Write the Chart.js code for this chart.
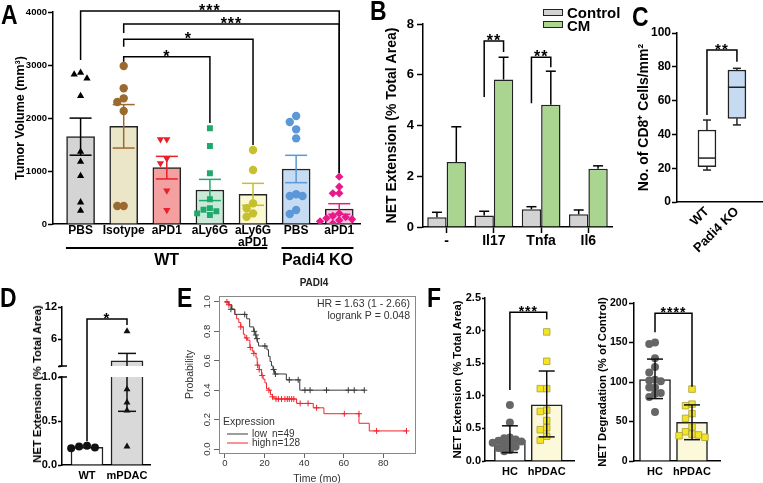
<!DOCTYPE html>
<html lang="en">
<head>
<meta charset="UTF-8">
<title>NET figure</title>
<script src="https://cdn.jsdelivr.net/npm/chart.js"></script>
<style>
  body { margin: 0; background: #fff; }
  #fig { position: relative; width: 763px; height: 483px; overflow: hidden; background: #fff;
         font-family: 'Liberation Sans', Arial, sans-serif; }
  #fig canvas { position: absolute; }
  .letter { position: absolute; font-weight: bold; font-size: 28px; line-height: 28px;
            transform-origin: 0 0; transform: scaleX(0.82); }
  .legbox { position: absolute; width: 18px; height: 5px; border: 1.5px solid #222; }
  .legtxt { position: absolute; font-weight: bold; font-size: 15px; line-height: 15px; }
  .vtitle { position: absolute; font-weight: bold; white-space: nowrap;
            transform: translate(-50%, -50%) rotate(-90deg); }
</style>
</head>
<body>
<div id="fig">
  <canvas id="cA" width="365" height="275" style="left:0;top:0"></canvas>
  <canvas id="cB" width="245" height="275" style="left:370px;top:0"></canvas>
  <canvas id="cC" width="148" height="275" style="left:615px;top:0"></canvas>
  <canvas id="cDlow" width="160" height="188" style="left:0;top:295px"></canvas>
  <canvas id="cDup" width="160" height="188" style="left:0;top:295px"></canvas>
  <canvas id="cE" width="250" height="213" style="left:170px;top:270px"></canvas>
  <canvas id="cF1" width="150" height="193" style="left:430px;top:290px"></canvas>
  <canvas id="cF2" width="183" height="193" style="left:580px;top:290px"></canvas>

  <div class="letter" style="left:1px;top:1px">A</div>
  <div class="letter" style="left:370px;top:-3px">B</div>
  <div class="letter" style="left:632px;top:3px">C</div>
  <div class="letter" style="left:0;top:284px">D</div>
  <div class="letter" style="left:177px;top:284px">E</div>
  <div class="letter" style="left:427px;top:284px">F</div>

  <div class="legbox" style="left:543px;top:9px;background:#d3d3d3"></div>
  <div class="legtxt" style="left:567px;top:5px">Control</div>
  <div class="legbox" style="left:543px;top:21px;background:#a9d591"></div>
  <div class="legtxt" style="left:567px;top:18px">CM</div>

  <div class="vtitle" style="left:37px;top:384px;font-size:11.3px">NET Extension (% Total Area)</div>
</div>

<script>
// ---- panel A: tumour volume ----
const groupsA = ['PBS', 'Isotype', 'aPD1', 'aLy6G', ['aLy6G', 'aPD1'], 'PBS', 'aPD1'];
const meanA = [1648, 1843, 1063, 642, 560, 1038, 283];
const semA = [350, 410, 213, 200, 207, 258, 100];
const pointsA = [
  [2855, 2824, 2748, 2415, 1365, 1176, 906, 409, 252],
  [2981, 2560, 2371, 2302, 2132, 340, 340],
  [1597, 1597, 1233, 1145, 629, 264],
  [1805, 1471, 956, 466, 300, 270, 240, 200, 170],
  [1396, 1019, 390, 296, 201, 138],
  [2038, 1925, 1786, 1616, 560, 528, 528, 264, 189],
  [893, 704, 579, 578, 200, 150, 130, 110, 90, 70, 50, 10]
];
const ticksA = [0, 1000, 2000, 3000, 4000];
// brackets: group indices, top / left leg end / right leg end (mm3)
const bracketsA = [
  { from: 0, to: 6, top: 4019, left: 3094, right: 962, stars: '***' },
  { from: 1, to: 6, top: 3774, left: 3604, right: 962, stars: '***' },
  { from: 1, to: 4, top: 3485, left: 3345, right: 1490, stars: '*' },
  { from: 1, to: 3, top: 3157, left: 3062, right: 1906, stars: '*' }
];
const genotypeA = [{ text: 'WT', from: 0, to: 4 }, { text: 'Padi4 KO', from: 5, to: 6 }];

// ---- panel B: NET extension per cytokine ----
const catB = ['-', 'Il17', 'Tnfa', 'Il6'];
const ctrlB = [0.38, 0.45, 0.70, 0.50];
const ctrlErrB = [0.20, 0.17, 0.10, 0.17];
const cmB = [2.56, 5.81, 4.82, 2.30];
const cmErrB = [1.39, 0.88, 1.32, 0.11];
const ticksB = [0, 2, 4, 6, 8];
const bracketsB = [
  { cat: 1, top: 7.33, left: 5.12, right: 6.9, stars: '**' },
  { cat: 2, top: 6.69, left: 4.88, right: 6.3, stars: '**' }
];

// ---- panel C: CD8 box plot ----
const catC = ['WT', 'Padi4 KO'];
const minC = [18.9, 45.6];
const q1C = [20.9, 49.5];
const medC = [26, 67.9];
const q3C = [42.6, 78.1];
const maxC = [48.5, 79.1];
const ticksC = [0, 20, 40, 60, 80, 100];

// ---- panel D: mouse NET extension (broken axis) ----
const catD = ['WT', 'mPDAC'];
const meanD = [0.2, 1.98];
const semD = [0, 1.37];
const pointsD = [[0.22, 0.21, 0.20, 0.19], [7.5, 0.86, 0.71, 0.62, 0.21]];

// ---- panel E: Kaplan-Meier, PADI4 ----
const lowT = [0, 2, 3.5, 5, 11, 12.5, 14.5, 15.2, 15.8, 16.4, 17, 21.2, 22, 22.8, 23.5, 24.3, 25, 31, 37.8, 70.4];
const lowS = [1.0, 0.98, 0.95, 0.915, 0.885, 0.83, 0.80, 0.775, 0.75, 0.725, 0.70, 0.675, 0.63, 0.595, 0.565, 0.54, 0.51, 0.47, 0.40, 0.40];
const lowCensT = [3, 10, 14.8, 15.6, 16.2, 20.2, 24.6, 25.5, 32.5, 37, 40.4, 43, 51.3, 62.3, 65.3, 70.4];
const lowCensS = [0.95, 0.915, 0.80, 0.775, 0.75, 0.70, 0.54, 0.51, 0.47, 0.47, 0.40, 0.40, 0.40, 0.40, 0.40, 0.40];
const highT = [0, 1.7, 3.4, 5, 5.9, 7, 8, 9.3, 10.1, 11.3, 12.6, 13.8, 14.6, 15.7, 16.3, 17.3, 18.5, 19.3, 20.2, 21, 22.2, 23, 24, 24.7, 25.8, 36.2, 44.6, 50, 67.7, 72.9, 91.7];
const highS = [1.0, 0.98, 0.95, 0.915, 0.885, 0.86, 0.83, 0.78, 0.755, 0.74, 0.69, 0.665, 0.65, 0.62, 0.57, 0.54, 0.50, 0.475, 0.45, 0.41, 0.40, 0.37, 0.355, 0.345, 0.34, 0.31, 0.28, 0.24, 0.175, 0.123, 0.123];
const highCensT = [1, 2, 8, 11, 12.8, 14.6, 16.5, 17.3, 18.8, 22.2, 24, 25.8, 27, 28.6, 30.3, 31.5, 32.5, 33.7, 34.8, 38, 42, 46.3, 60.3, 67.7, 76.6, 91.7];
const highCensS = [1.0, 0.98, 0.83, 0.755, 0.69, 0.65, 0.57, 0.54, 0.50, 0.40, 0.355, 0.34, 0.34, 0.34, 0.34, 0.34, 0.34, 0.34, 0.34, 0.31, 0.31, 0.28, 0.24, 0.24, 0.123, 0.123];
const ticksEx = [0, 20, 40, 60, 80];
const ticksEy = [0, 0.2, 0.4, 0.6, 0.8, 1.0];

// ---- panel F: human NET extension / degradation ----
const catF = ['HC', 'hPDAC'];
const extMean = [0.32, 0.86];
const extLo = [0.13, 0.37];
const extHi = [0.54, 1.38];
const extPts = [
  [0.86, 0.59, 0.36, 0.35, 0.33, 0.31, 0.30, 0.28, 0.26, 0.24, 0.22, 0.20, 0.17, 0.15],
  [1.98, 1.53, 1.11, 1.11, 0.78, 0.76, 0.62, 0.51, 0.48, 0.38, 0.32]
];
const degMean = [103, 49];
const degLo = [79, 27];
const degHi = [129, 71];
const degPts = [
  [150, 148, 130, 119, 112, 103, 102, 101, 93, 93, 86, 85, 81, 62],
  [91, 72, 70, 60, 54, 43, 37, 34, 33, 32, 30]
];

// ---------- helpers ----------
const FONT = "'Liberation Sans', Arial, sans-serif";
Chart.defaults.font.family = FONT;
Chart.defaults.font.weight = 'bold';
Chart.defaults.color = '#000';
Chart.defaults.animation = false;
Chart.defaults.responsive = false;
Chart.defaults.plugins.legend.display = false;
Chart.defaults.plugins.tooltip.enabled = false;

// simple bee-swarm: spread points sideways when they would overlap (points may overlap a little)
function swarm(vals, center, pxX, pxY, diam) {
  const gap = diam * 0.72;
  const order = vals.map((v, i) => i).sort((a, b) => vals[b] - vals[a]);
  const placed = [];
  order.forEach(i => {
    const v = vals[i];
    for (let k = 0; k < 40; k++) {
      const off = (k % 2 ? -1 : 1) * Math.ceil(k / 2) * gap;
      const hit = placed.some(p => Math.hypot(p.off - off, (p.v - v) * pxY) < gap - 0.01);
      if (!hit) { placed.push({ off, v }); break; }
    }
  });
  return placed.map(p => ({ x: center + p.off / pxX, y: p.v }));
}

function stroke(ctx, pts, color, w) {
  ctx.save();
  ctx.strokeStyle = color; ctx.lineWidth = w || 1.5;
  ctx.beginPath();
  ctx.moveTo(pts[0][0], pts[0][1]);
  for (let i = 1; i < pts.length; i++) ctx.lineTo(pts[i][0], pts[i][1]);
  ctx.stroke();
  ctx.restore();
}

function errBar(ctx, px, yLo, yHi, half, color, capLo) {
  stroke(ctx, [[px, yLo], [px, yHi]], color);
  stroke(ctx, [[px - half, yHi], [px + half, yHi]], color);
  if (capLo) stroke(ctx, [[px - half, yLo], [px + half, yLo]], color);
}

function bracket(ctx, x1, x2, yTop, yL, yR, stars, size) {
  stroke(ctx, [[x1, yL], [x1, yTop], [x2, yTop], [x2, yR]], '#000');
  ctx.save();
  ctx.font = 'bold ' + size + 'px ' + FONT;
  ctx.textAlign = 'center';
  ctx.textBaseline = 'alphabetic';
  ctx.fillStyle = '#000';
  ctx.letterSpacing = '1px';
  ctx.fillText(stars, (x1 + x2) / 2, yTop - 2 + 0.43 * size);
  ctx.restore();
}

function yScale(o) {
  return {
    type: 'linear', min: o.min, max: o.max,
    afterBuildTicks: s => { s.ticks = o.ticks.map(v => ({ value: v })); },
    afterFit: s => { s.width = o.width; },
    ticks: { font: { size: o.size }, padding: o.pad, callback: o.fmt || (v => v) },
    grid: { drawOnChartArea: false, tickLength: o.tl, tickWidth: 1.5, color: '#000' },
    border: { color: '#000', width: 1.5 },
    title: o.title
      ? { display: true, text: o.title, font: { size: o.titleSize }, padding: { top: o.titlePad, bottom: 0 } }
      : { display: false }
  };
}

function xScale(o) {
  return {
    type: 'linear', offset: false, min: o.min, max: o.max, display: o.display !== false,
    afterBuildTicks: s => { s.ticks = o.labels.map((_, i) => ({ value: i })); },
    afterFit: s => { s.height = o.height; },
    ticks: { font: { size: o.size, lineHeight: o.lh || 1.2 }, padding: o.pad, autoSkip: false,
             minRotation: o.rot || 0, maxRotation: o.rot || 0,
             callback: (v, i) => o.labels[i] },
    grid: { drawOnChartArea: false, drawTicks: false },
    border: { color: '#000', width: 1.5 }
  };
}

// ---------- A ----------
const fillA = ['#d4d4d4', '#ece6c8', '#f4a0a0', '#cbe9d9', '#fbf8d4', '#c7dcf3', '#f8c6de'];
const dotA = ['#000000', '#9a6a30', '#e8202a', '#1faa6c', '#c5c02c', '#5a98d8', '#e8198a'];
const styleA = ['triangle', 'circle', 'triangle', 'rect', 'circle', 'circle', 'rectRot'];
const rotA = [0, 0, 180, 0, 0, 0, 0];

new Chart(document.getElementById('cA'), {
  type: 'bar',
  data: {
    datasets: [
      ...pointsA.map((vals, g) => ({
        type: 'scatter', order: 1,
        data: swarm(vals, g, 43.7, 0.053, 9),
        pointStyle: styleA[g], rotation: rotA[g], pointRadius: 4.2,
        backgroundColor: dotA[g], borderColor: dotA[g], borderWidth: 0
      })),
      {
        order: 2,
        data: meanA.map((v, g) => ({ x: g, y: v })),
        backgroundColor: fillA, borderColor: '#222', borderWidth: 1.5, barThickness: 28
      }
    ]
  },
  options: {
    layout: { padding: { left: 0, top: 12, right: 0, bottom: 0 } },
    scales: {
      x: xScale({ min: -0.64, max: 6.5, labels: groupsA, height: 51, size: 12, pad: 1, lh: 1.0 }),
      y: yScale({ min: 0, max: 4000, ticks: ticksA, width: 53, size: 9.5, pad: 1, tl: 5,
                  title: 'Tumor Volume (mm³)', titleSize: 12.5, titlePad: 13 })
    }
  },
  plugins: [{
    id: 'annA',
    afterDatasetsDraw(chart) {
      const { ctx, scales: { x, y }, chartArea } = chart;
      meanA.forEach((m, g) => errBar(ctx, x.getPixelForValue(g), y.getPixelForValue(m - semA[g]),
        y.getPixelForValue(m + semA[g]), 11, dotA[g], true));
      bracketsA.forEach(b => bracket(ctx, x.getPixelForValue(b.from), x.getPixelForValue(b.to),
        y.getPixelForValue(b.top), y.getPixelForValue(b.left), y.getPixelForValue(b.right), b.stars, 16));
      genotypeA.forEach(gr => {
        const x1 = x.getPixelForValue(gr.from - 0.34), x2 = x.getPixelForValue(gr.to + 0.33);
        const yl = chartArea.bottom + 24;
        stroke(ctx, [[x1, yl], [x2, yl]], '#000', 2);
        ctx.save();
        ctx.font = 'bold 16px ' + FONT;
        ctx.textAlign = 'center'; ctx.textBaseline = 'middle'; ctx.fillStyle = '#000';
        ctx.fillText(gr.text, (x1 + x2) / 2, yl + 13);
        ctx.restore();
      });
    }
  }]
});

// ---------- B ----------
new Chart(document.getElementById('cB'), {
  type: 'bar',
  data: {
    labels: catB,
    datasets: [
      { data: ctrlB, backgroundColor: '#d3d3d3', borderColor: '#222', borderWidth: 1.5,
        categoryPercentage: 0.82, barPercentage: 1 },
      { data: cmB, backgroundColor: '#a9d591', borderColor: '#222', borderWidth: 1.5,
        categoryPercentage: 0.82, barPercentage: 1 }
    ]
  },
  options: {
    layout: { padding: { left: 0, top: 24, right: 3, bottom: 0 } },
    scales: {
      x: {
        afterFit: s => { s.height = 48; },
        ticks: { font: { size: 14 }, padding: 0 },
        grid: { offset: false, drawOnChartArea: false, tickLength: 6, tickWidth: 1.5, color: '#000' },
        border: { color: '#000', width: 1.5 }
      },
      y: yScale({ min: 0, max: 8, ticks: ticksB, width: 53, size: 13, pad: 3, tl: 6,
                  title: 'NET Extension (% Total Area)', titleSize: 14, titlePad: 14 })
    }
  },
  plugins: [{
    id: 'annB',
    afterDatasetsDraw(chart) {
      const { ctx, scales: { y } } = chart;
      [[ctrlB, ctrlErrB], [cmB, cmErrB]].forEach(([m, e], d) => {
        chart.getDatasetMeta(d).data.forEach((bar, i) =>
          errBar(ctx, bar.x, y.getPixelForValue(m[i]), y.getPixelForValue(m[i] + e[i]), 5, '#000', false));
      });
      bracketsB.forEach(b => {
        const x1 = chart.getDatasetMeta(0).data[b.cat].x, x2 = chart.getDatasetMeta(1).data[b.cat].x;
        bracket(ctx, x1, x2, y.getPixelForValue(b.top), y.getPixelForValue(b.left), y.getPixelForValue(b.right), b.stars, 16);
      });
    }
  }]
});

// ---------- C ----------
new Chart(document.getElementById('cC'), {
  type: 'bar',
  data: {
    datasets: [{
      data: catC.map((c, i) => ({ x: i, y: [q1C[i], q3C[i]] })),
      backgroundColor: ['#ffffff', '#c6dbf2'], borderColor: '#222', borderWidth: 1.5,
      borderSkipped: false, barThickness: 18
    }]
  },
  options: {
    layout: { padding: { left: 0, top: 33, right: 0, bottom: 0 } },
    scales: {
      x: xScale({ min: -1, max: 1.87, labels: catC, height: 73, size: 13, pad: 2, rot: 45 }),
      y: yScale({ min: 0, max: 100, ticks: ticksC, width: 62, size: 12, pad: 1, tl: 5,
                  title: 'No. of CD8⁺ Cells/mm²', titleSize: 14, titlePad: 21 })
    }
  },
  plugins: [{
    id: 'annC',
    afterDatasetsDraw(chart) {
      const { ctx, scales: { x, y } } = chart;
      catC.forEach((c, i) => {
        const px = x.getPixelForValue(i);
        stroke(ctx, [[px, y.getPixelForValue(q3C[i])], [px, y.getPixelForValue(maxC[i])]], '#222');
        stroke(ctx, [[px, y.getPixelForValue(q1C[i])], [px, y.getPixelForValue(minC[i])]], '#222');
        stroke(ctx, [[px - 4, y.getPixelForValue(maxC[i])], [px + 4, y.getPixelForValue(maxC[i])]], '#222');
        stroke(ctx, [[px - 4, y.getPixelForValue(minC[i])], [px + 4, y.getPixelForValue(minC[i])]], '#222');
        stroke(ctx, [[px - 9, y.getPixelForValue(medC[i])], [px + 9, y.getPixelForValue(medC[i])]], '#222');
      });
      bracket(ctx, x.getPixelForValue(0), x.getPixelForValue(1), y.getPixelForValue(90),
        y.getPixelForValue(51.5), y.getPixelForValue(83), '**', 15);
    }
  }]
});

// ---------- D (lower and upper segment of a broken axis) ----------
const pxD = 40;
function dPoints(keep) {
  return pointsD.map((vals, g) => ({
    type: 'scatter', order: 1, clip: 0,
    data: swarm(vals, g, pxD, 88, 11).filter(p => keep(p.y)),
    pointStyle: g ? 'triangle' : 'circle', pointRadius: 4,
    backgroundColor: '#111', borderColor: '#111', borderWidth: 0
  }));
}
function dErr(chart) {
  const { ctx, scales: { x, y }, chartArea: a } = chart;
  ctx.save();
  ctx.beginPath(); ctx.rect(a.left, a.top, a.right - a.left, a.bottom - a.top); ctx.clip();
  meanD.forEach((m, g) => {
    if (!semD[g]) return;
    errBar(ctx, x.getPixelForValue(g), y.getPixelForValue(m - semD[g]), y.getPixelForValue(m + semD[g]), 9, '#111', true);
  });
  ctx.restore();
}
const dLow = new Chart(document.getElementById('cDlow'), {
  type: 'bar',
  data: {
    datasets: [
      ...dPoints(v => v < 1),
      { order: 2, clip: 0, data: meanD.map((v, g) => ({ x: g, y: v })),
        backgroundColor: ['#ffffff', '#d9d9d9'], borderColor: '#222', borderWidth: 1.5, barThickness: 32 }
    ]
  },
  options: {
    layout: { padding: { left: 0, top: 82, right: 10, bottom: 0 } },
    scales: {
      x: xScale({ min: -0.625, max: 1.575, labels: catD, height: 18, size: 11, pad: 4 }),
      y: yScale({ min: 0, max: 1, ticks: [0, 0.5, 1], width: 62, size: 11, pad: 1, tl: 4, fmt: v => v.toFixed(1) })
    }
  },
  plugins: [{
    id: 'annDlow',
    afterDatasetsDraw(chart) {
      dErr(chart);
      const a = chart.chartArea;
      stroke(chart.ctx, [[a.left - 3, a.top], [a.left + 5, a.top]], '#000');
    }
  }]
});
new Chart(document.getElementById('cDup'), {
  type: 'bar',
  data: {
    datasets: [
      ...dPoints(v => v >= 1),
      { order: 2, clip: 0, data: meanD.map((v, g) => ({ x: g, y: v >= 1 ? v : null })),
        backgroundColor: ['#ffffff', '#d9d9d9'], borderColor: '#222', borderWidth: 1.5, barThickness: 32 }
    ]
  },
  options: {
    layout: { padding: { left: 0, top: 12, right: 10, bottom: 117 } },
    scales: {
      x: xScale({ min: -0.625, max: 1.575, labels: catD, height: 0, size: 11, pad: 4, display: false }),
      y: yScale({ min: 1, max: 12, ticks: [1, 6, 12], width: 62, size: 11, pad: 1, tl: 4,
                  fmt: v => (v === 1 ? '' : v) })
    }
  },
  plugins: [{
    id: 'annDup',
    afterDatasetsDraw(chart) {
      dErr(chart);
      const { ctx, scales: { x, y }, chartArea: a } = chart;
      stroke(ctx, [[a.left - 3, a.bottom], [a.left + 5, a.bottom]], '#000');
      bracket(ctx, x.getPixelForValue(0), x.getPixelForValue(1), y.getPixelForValue(9.76),
        dLow.scales.y.getPixelForValue(0.27), y.getPixelForValue(8.64), '*', 15);
    }
  }]
});

// ---------- E ----------
const zip = (t, s) => t.map((v, i) => ({ x: v, y: s[i] }));
const lowCol = '#3a3a3a', highCol = '#f2242c';
new Chart(document.getElementById('cE'), {
  type: 'line',
  data: {
    datasets: [
      { data: zip(lowCensT, lowCensS), showLine: false, pointStyle: 'cross', pointRadius: 3,
        borderColor: lowCol, borderWidth: 1 },
      { data: zip(highCensT, highCensS), showLine: false, pointStyle: 'cross', pointRadius: 3,
        borderColor: highCol, borderWidth: 1 },
      { data: zip(lowT, lowS), stepped: 'before', borderColor: lowCol, borderWidth: 1, pointRadius: 0 },
      { data: zip(highT, highS), stepped: 'before', borderColor: highCol, borderWidth: 1, pointRadius: 0 }
    ]
  },
  options: {
    layout: { padding: { left: 0, top: 26, right: 5, bottom: 0 } },
    scales: {
      x: {
        type: 'linear', min: -3, max: 96,
        afterBuildTicks: s => { s.ticks = ticksEx.map(v => ({ value: v })); },
        afterFit: s => { s.height = 30; },
        ticks: { font: { size: 9.5, weight: 'normal' }, color: '#333', padding: 0 },
        grid: { drawOnChartArea: false, tickLength: 5, color: '#666' },
        border: { display: false },
        title: { display: true, text: 'Time (mo)', color: '#333', font: { size: 10.5, weight: 'normal', lineHeight: 1 },
                 padding: { top: 0, bottom: -1 } }
      },
      y: {
        type: 'linear', min: -0.027, max: 1.04,
        afterBuildTicks: s => { s.ticks = ticksEy.map(v => ({ value: v })); },
        afterFit: s => { s.width = 49; },
        ticks: { font: { size: 9.5, weight: 'normal' }, color: '#333', padding: 0.5, minRotation: 90, maxRotation: 90,
                 crossAlign: 'center', callback: v => v.toFixed(1) },
        grid: { drawOnChartArea: false, tickLength: 5, color: '#666' },
        border: { display: false },
        title: { display: true, text: 'Probability', color: '#333', font: { size: 10.5, weight: 'normal' },
                 padding: { top: 13.5, bottom: 0 } }
      }
    }
  },
  plugins: [{
    id: 'annE',
    afterDraw(chart) {
      const { ctx, chartArea: a } = chart;
      ctx.save();
      ctx.strokeStyle = '#888'; ctx.lineWidth = 1;
      ctx.strokeRect(a.left + 0.5, a.top + 0.5, a.right - a.left, a.bottom - a.top);
      ctx.fillStyle = '#222';
      ctx.font = 'bold 10px ' + FONT;
      ctx.textAlign = 'center'; ctx.textBaseline = 'middle';
      ctx.fillText('PADI4', (a.left + a.right) / 2 - 3, 13);
      ctx.font = '10.5px ' + FONT;
      ctx.fillStyle = '#333';
      ctx.textAlign = 'right';
      ctx.fillText('HR = 1.63 (1 - 2.66)', a.right - 5, a.top + 8);
      ctx.fillText('logrank P = 0.048', a.right - 5, a.top + 20);
      ctx.textAlign = 'left';
      ctx.fillText('Expression', a.left + 4, a.bottom - 31);
      ctx.font = '10px ' + FONT;
      [['low', 'n=49', lowCol, -19], ['high', 'n=128', highCol, -10]].forEach(([t, n, c, dy]) => {
        stroke(ctx, [[a.left + 8, a.bottom + dy], [a.left + 29, a.bottom + dy]], c, 1);
        ctx.fillText(t, a.left + 33, a.bottom + dy);
        ctx.fillText(n, a.left + 53, a.bottom + dy);
      });
      ctx.restore();
    }
  }]
});

// ---------- F ----------
function fChart(id, o) {
  return new Chart(document.getElementById(id), {
    type: 'bar',
    data: {
      datasets: [
        { type: 'scatter', order: 1, data: swarm(o.pts[0], 0, 37, o.pxY, 8),
          pointStyle: 'circle', pointRadius: 4, backgroundColor: '#666', borderWidth: 0 },
        { type: 'scatter', order: 1, data: swarm(o.pts[1], 1, 37, o.pxY, 9),
          pointStyle: 'rect', pointRadius: 4.6, backgroundColor: '#f5e425', borderColor: '#a59f3c', borderWidth: 0.8 },
        { order: 2, data: o.mean.map((v, g) => ({ x: g, y: v })),
          backgroundColor: ['#ffffff', '#fcf8da'], borderColor: '#222', borderWidth: 1.5, barThickness: 31 }
      ]
    },
    options: {
      layout: { padding: { left: 0, top: o.top, right: o.right, bottom: 0 } },
      scales: {
        x: xScale({ min: o.xmin, max: o.xmax, labels: catF, height: 22, size: 11, pad: 4 }),
        y: yScale({ min: 0, max: o.max, ticks: o.ticks, width: o.width, size: o.tick, pad: o.pad, tl: o.tl,
                    fmt: o.fmt, title: o.title, titleSize: 11.3, titlePad: o.titlePad })
      }
    },
    plugins: [{
      id: 'ann' + id,
      afterDatasetsDraw(chart) {
        const { ctx, scales: { x, y } } = chart;
        o.mean.forEach((m, g) => errBar(ctx, x.getPixelForValue(g), y.getPixelForValue(o.lo[g]),
          y.getPixelForValue(o.hi[g]), 8, '#111', true));
        const b = o.bracket;
        bracket(ctx, x.getPixelForValue(0), x.getPixelForValue(1), y.getPixelForValue(b[0]),
          y.getPixelForValue(b[1]), y.getPixelForValue(b[2]), b[3], 14);
      }
    }]
  });
}
fChart('cF1', {
  pts: extPts, mean: extMean, lo: extLo, hi: extHi, pxY: 65, top: 8, right: 5,
  xmin: -0.676, xmax: 1.757, max: 2.5, ticks: [0, 0.5, 1, 1.5, 2, 2.5], width: 55, tick: 11, pad: 1, tl: 3,
  fmt: v => v.toFixed(1), title: 'NET Extension (% Total Area)', titlePad: 21.5,
  bracket: [2.28, 1.09, 2.17, '***']
});
fChart('cF2', {
  pts: degPts, mean: degMean, lo: degLo, hi: degHi, pxY: 0.79, top: 13, right: 43,
  xmin: -0.568, xmax: 1.757, max: 200, ticks: [0, 50, 100, 150, 200], width: 54, tick: 10.5, pad: 1.5, tl: 5,
  title: 'NET Degradation (% of Control)', titlePad: 16.5,
  bracket: [187, 163, 94, '****']
});
</script>
</body>
</html>
